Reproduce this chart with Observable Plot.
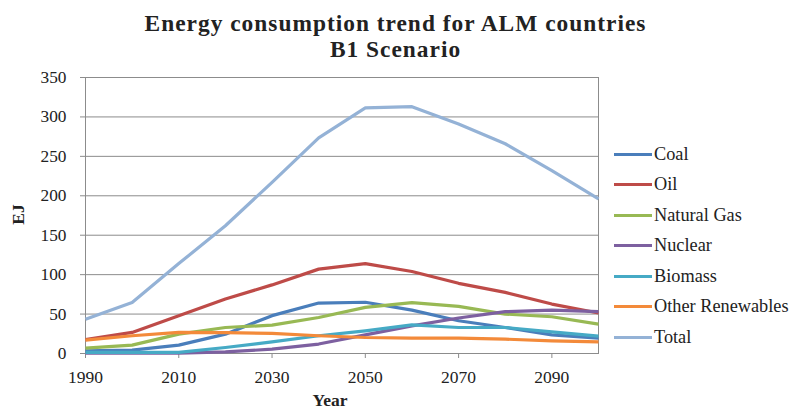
<!DOCTYPE html>
<html>
<head>
<meta charset="utf-8">
<script src="https://cdn.jsdelivr.net/npm/d3@7"></script>
<script src="https://cdn.jsdelivr.net/npm/@observablehq/plot@0.6"></script>
<style>
  body { margin: 0; background: #fff; }
  #wrap, #wrap * { font-family: "Liberation Serif", "Times New Roman", serif !important; }
  #wrap { position: relative; width: 791px; height: 412px; overflow: hidden; }
  .title { position: absolute; left: 0; width: 791px; text-align: center; font-weight: bold; font-size: 23.4px; letter-spacing: 1px; line-height: 24px; color: #222; }
  #chart { position: absolute; left: 0; top: 62px; }
  #legend { position: absolute; left: 614px; top: 138.8px; font-size: 18.3px; color: #222; }
  .item { height: 30.5px; display: flex; align-items: center; }
  .sw { width: 38px; height: 3px; margin-right: 2px; }
</style>
</head>
<body>
<div id="wrap">
  <div class="title" style="top:11px">Energy consumption trend for ALM countries</div>
  <div class="title" style="top:37px">B1 Scenario</div>
  <div id="chart"></div>
  <div id="legend"></div>
</div>
<script>
const years = [1990, 2000, 2010, 2020, 2030, 2040, 2050, 2060, 2070, 2080, 2090, 2100];
const seriesNames = ["Coal", "Oil", "Natural Gas", "Nuclear", "Biomass", "Other Renewables", "Total"];
const colors = ["#4A7EBB", "#BE4B48", "#98B954", "#7D60A0", "#46AAC5", "#F38A3A", "#94B2D6"];
const coal = [3.4, 4.2, 10.6, 24.5, 48, 64, 65, 55, 41.5, 33, 23.7, 19.5];
const oil = [17.5, 26.7, 47.9, 69, 87, 107, 114, 104, 89, 77.5, 62.7, 51.3];
const naturalGas = [6.8, 10.6, 24.6, 33, 36, 45.7, 58.5, 64.5, 59.7, 50, 46.6, 37.3];
const nuclear = [0.5, 0.5, 0.5, 2, 5.5, 12, 23.7, 35, 45, 53, 55, 53];
const biomass = [1.5, 1.5, 1.5, 7.6, 14.8, 22.5, 28.8, 36.4, 33, 33, 27.5, 22];
const otherRenewables = [17, 22.5, 26.7, 26.5, 25.4, 22.5, 20.3, 19.5, 19.5, 18.2, 16, 14.8];
const total = [43.5, 64.8, 114, 162, 217, 273.5, 311.6, 313, 291, 266, 232, 196];
const xTicks = [1990, 2010, 2030, 2050, 2070, 2090];
const yTicks = [0, 50, 100, 150, 200, 250, 300, 350];

const seriesValues = [coal, oil, naturalGas, nuclear, biomass, otherRenewables, total];
const data = [];
seriesNames.forEach((name, i) => {
  years.forEach((yr, j) => data.push({ series: name, year: yr, value: seriesValues[i][j] }));
});

const serif = "'Liberation Serif', 'Times New Roman', serif";
const chart = Plot.plot({
  width: 791,
  height: 350,
  marginLeft: 85,
  marginRight: 193,
  marginTop: 15,
  marginBottom: 59,
  style: { fontFamily: serif, fontSize: "17px", color: "#222", background: "#fff" },
  x: { domain: [1990, 2100], label: null },
  y: { domain: [0, 350], label: null },
  color: { domain: seriesNames, range: colors },
  marks: [
    Plot.gridY(yTicks, { stroke: "#8c8c8c", strokeOpacity: 1, strokeWidth: 1 }),
    Plot.frame({ stroke: "#8c8c8c", strokeWidth: 1 }),
    Plot.axisX({ ticks: xTicks, tickFormat: d3.format("d"), stroke: "#8c8c8c", tickSize: 5, tickPadding: 12, label: null, fontSize: 17.5, fontFamily: serif, fill: "#222" }),
    Plot.axisY({ ticks: yTicks, stroke: "#8c8c8c", tickSize: 5, tickPadding: 14, label: null, fontSize: 17.3, fontFamily: serif, fill: "#222" }),
    Plot.text(["Year"], { frameAnchor: "bottom", dx: -12, dy: 52, fontWeight: "bold", fontSize: 17.5, fontFamily: serif, fill: "#222" }),
    Plot.text(["EJ"], { frameAnchor: "left", dx: -67, dy: -1, rotate: -90, textAnchor: "middle", fontWeight: "bold", fontSize: 17.5, fontFamily: serif, fill: "#222" }),
    Plot.line(data, { x: "year", y: "value", z: "series", stroke: "series", strokeWidth: 3.2, strokeLinejoin: "round", strokeLinecap: "butt" })
  ]
});
document.getElementById("chart").appendChild(chart);

const legend = document.getElementById("legend");
seriesNames.forEach((name, i) => {
  const row = document.createElement("div");
  row.className = "item";
  const sw = document.createElement("div");
  sw.className = "sw";
  sw.style.background = colors[i];
  const lab = document.createElement("span");
  lab.textContent = name;
  row.appendChild(sw);
  row.appendChild(lab);
  legend.appendChild(row);
});
</script>
</body>
</html>
